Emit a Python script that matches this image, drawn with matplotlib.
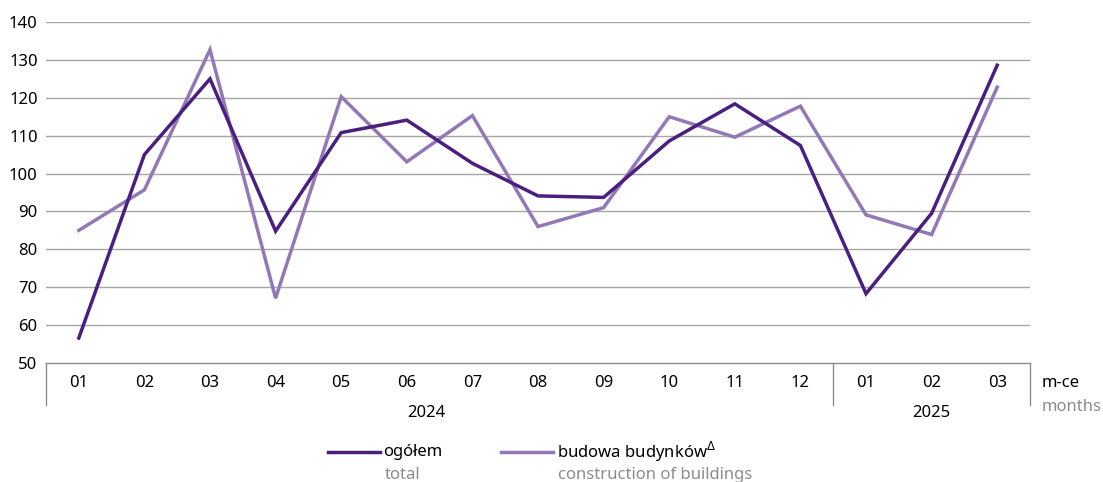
import matplotlib
matplotlib.use("Agg")
import matplotlib.pyplot as plt
import matplotlib.transforms as mtransforms

months = ["01", "02", "03", "04", "05", "06", "07", "08", "09", "10", "11", "12",
          "01", "02", "03"]
years = ["2024", "2025"]
year_spans = [(0, 11), (12, 14)]
total = [56.6, 105.0, 125.0, 84.8, 110.8, 114.1, 102.7, 94.1, 93.7, 108.6,
         118.4, 107.4, 68.3, 89.5, 128.6]
buildings = [85.0, 95.7, 132.7, 67.1, 120.3, 103.1, 115.3, 86.0, 91.0, 115.0,
             109.6, 117.8, 89.1, 83.9, 122.8]
yticks = [50, 60, 70, 80, 90, 100, 110, 120, 130, 140]

dark = "#4a1f80"
light = "#9279b6"
grey = "#8c8c8c"

plt.rcParams["font.family"] = ["Noto Sans", "DejaVu Sans"]

fig = plt.figure(figsize=(11.03, 4.82), dpi=100)
ax = fig.add_axes([46 / 1103, 1 - 363 / 482, (1030 - 46) / 1103, (363 - 22) / 482])

x = list(range(len(months)))
ax.plot(x, buildings, color=light, lw=2.5, solid_joinstyle="miter", zorder=3)
ax.plot(x, total, color=dark, lw=2.5, solid_joinstyle="miter", zorder=4)

ax.set_xlim(-0.5, len(months) - 0.5)
ax.set_ylim(50, 140)
ax.set_yticks(yticks)
ax.set_yticklabels([str(v) for v in yticks], fontsize=12)
ax.tick_params(axis="y", length=0, pad=6)
ax.set_xticks([])
for v in yticks[1:]:
    ax.axhline(v, color="#a6a6a6", lw=1.0, zorder=1)
for s in ["top", "right", "left"]:
    ax.spines[s].set_visible(False)
ax.spines["bottom"].set_color("#8c8c8c")
ax.spines["bottom"].set_linewidth(1.0)

tr = mtransforms.blended_transform_factory(ax.transData, ax.transAxes)
sep_h = -42 / 341
for xs in [-0.5, 11.5, 14.5]:
    ax.plot([xs, xs], [0, sep_h], color="#8c8c8c", lw=1.0, transform=tr, clip_on=False)

for i, m in enumerate(months):
    ax.text(i, -20 / 341, m, transform=tr, ha="center", va="center", fontsize=12)
# the 2024 label sits a little left of its span's centre in the original
year_shift = [-0.2, 0.0]
for yr, (a, b), dx in zip(years, year_spans, year_shift):
    ax.text((a + b) / 2 + dx, -50 / 341, yr, transform=tr, ha="center", va="center",
            fontsize=12)

ax.text(1042 / 1103, 1 - 383 / 482, "m-ce", transform=fig.transFigure,
        ha="left", va="center", fontsize=12)
ax.text(1042 / 1103, 1 - 407 / 482, "months", transform=fig.transFigure,
        ha="left", va="center", fontsize=12, color=grey)

# legend
fig.add_artist(plt.Line2D([328 / 1103, 380 / 1103], [1 - 452 / 482] * 2,
                          color=dark, lw=2.5, transform=fig.transFigure))
fig.text(383 / 1103, 1 - 452 / 482, "ogółem", ha="left", va="center", fontsize=12)
fig.text(385 / 1103, 1 - 475 / 482, "total", ha="left", va="center", fontsize=12, color=grey)
fig.add_artist(plt.Line2D([501 / 1103, 553 / 1103], [1 - 452 / 482] * 2,
                          color=light, lw=2.5, transform=fig.transFigure))
fig.text(557 / 1103, 1 - 452 / 482, "budowa budynków$^{\\Delta}$", ha="left", va="center",
         fontsize=12)
fig.text(558 / 1103, 1 - 475 / 482, "construction of buildings", ha="left", va="center",
         fontsize=12, color=grey)

fig.savefig("out.png", dpi=100)
